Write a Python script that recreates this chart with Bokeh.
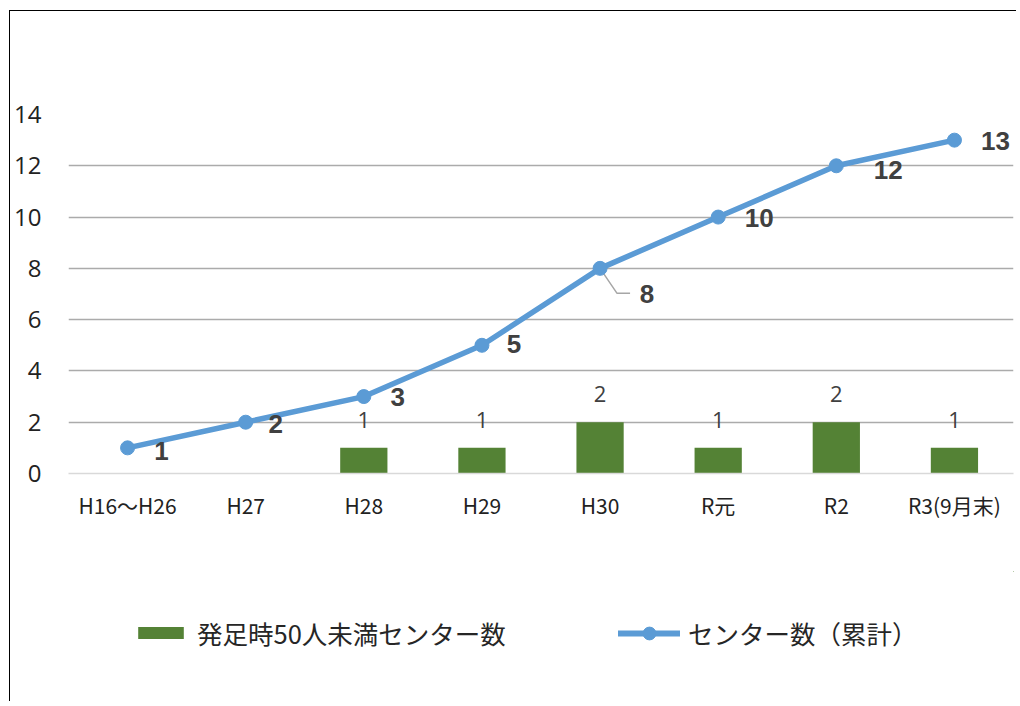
from bokeh.plotting import figure
from bokeh.layouts import column
from bokeh.models import Range1d, FactorRange, ColumnDataSource, Legend, LegendItem, FixedTicker
from bokeh.core.properties import value
from bokeh.embed import file_html
from bokeh.resources import INLINE

# ---- data ----
categories = ["H16〜H26", "H27", "H28", "H29", "H30", "R元", "R2", "R3(9月末)"]
small_centers = [0, 0, 1, 1, 2, 1, 2, 1]          # 発足時50人未満センター数
cumulative_centers = [1, 2, 3, 5, 8, 10, 12, 13]  # センター数（累計）
y_ticks = [0, 2, 4, 6, 8, 10, 12, 14]
bar_series_name = "発足時50人未満センター数"
line_series_name = "センター数（累計）"

# ---- styles ----
BAR_COLOR = "#548235"
LINE_COLOR = "#5B9BD5"
GRID_COLOR = "#ABABAB"
TEXT_DARK = "#404040"
TEXT_AXIS = "#222222"
JP_FONT = "Noto Sans CJK JP"
NUM_FONT = "Open Sans"
line_label_dx = [34, 30, 34, 32, 47, 41, 52, 41]
line_label_dy = [3, 2, 0, -1, 26, 1, 4, 1]

p = figure(width=1006, height=560,
           x_range=FactorRange(factors=categories, range_padding=0),
           y_range=Range1d(0, 14),
           output_backend="svg", toolbar_location=None,
           min_border_left=58, min_border_right=3,
           min_border_top=103, min_border_bottom=98)
p.outline_line_color = None
p.background_fill_color = "white"
p.border_fill_color = "white"

# grid
p.xgrid.grid_line_color = None
p.ygrid.ticker = FixedTicker(ticks=y_ticks[1:])
p.ygrid.grid_line_color = GRID_COLOR
p.ygrid.grid_line_width = 1.5

# axes
p.yaxis.ticker = FixedTicker(ticks=y_ticks)
p.yaxis.axis_line_color = None
p.yaxis.major_tick_line_color = None
p.yaxis.minor_tick_line_color = None
p.yaxis.major_tick_out = 0
p.yaxis.major_tick_in = 0
p.yaxis.major_label_standoff = 27
p.yaxis.major_label_text_font = NUM_FONT
p.yaxis.major_label_text_font_size = "24px"
p.yaxis.major_label_text_color = TEXT_AXIS

p.xaxis.axis_line_color = "#D9D9D9"
p.xaxis.axis_line_width = 1.5
p.xaxis.major_tick_line_color = None
p.xaxis.major_tick_out = 0
p.xaxis.major_tick_in = 0
p.xaxis.major_label_standoff = 16
p.xaxis.major_label_text_font = JP_FONT
p.xaxis.major_label_text_font_size = "21px"
p.xaxis.major_label_text_color = TEXT_AXIS

# bars
bar_idx = [i for i, v in enumerate(small_centers) if v > 0]
bar_src = ColumnDataSource(dict(
    x=[categories[i] for i in bar_idx],
    top=[small_centers[i] for i in bar_idx],
    label=[str(small_centers[i]) for i in bar_idx],
))
p.vbar(x="x", top="top", bottom=0, width=0.4, source=bar_src,
       fill_color=BAR_COLOR, line_color=None)
p.text(x="x", y="top", text="label", source=bar_src, y_offset=-28,
       text_align="center", text_baseline="middle",
       text_font=value(NUM_FONT), text_font_size="22px", text_color=TEXT_DARK)

# leader line for the label of H30 (index 4)
k = 4
px_x = 1.0 / 118.1   # data units per pixel (x)
px_y = 14.0 / 359.0  # data units per pixel (y)
xc = k + 0.5
yc = cumulative_centers[k]
p.line(x=[xc, xc + 17 * px_x, xc + 30 * px_x],
       y=[yc, yc - 25 * px_y, yc - 25 * px_y],
       line_color="#A6A6A6", line_width=1.5)

# line
line_src = ColumnDataSource(dict(
    x=categories, y=cumulative_centers,
    label=[str(v) for v in cumulative_centers],
    dx=line_label_dx, dy=line_label_dy,
))
p.line(x="x", y="y", source=line_src, line_color=LINE_COLOR, line_width=5.5,
       line_cap="round", line_join="round")
p.scatter(x="x", y="y", source=line_src, marker="circle", size=14,
          fill_color=LINE_COLOR, line_color=LINE_COLOR)
p.text(x="x", y="y", text="label", source=line_src, x_offset="dx", y_offset="dy",
       text_align="center", text_baseline="middle",
       text_font=value("Liberation Sans"), text_font_style="bold",
       text_font_size="26px", text_color=TEXT_DARK)

# ---- legend strip (second figure; series kept out of its view, legend only) ----
lf = figure(width=1006, height=130, x_range=Range1d(-3, -2), y_range=Range1d(-3, -2),
            x_axis_type=None, y_axis_type=None, output_backend="svg",
            toolbar_location=None, min_border_left=58, min_border_right=3,
            min_border_top=0, min_border_bottom=0)
lf.outline_line_color = None
lf.background_fill_color = "white"
lf.border_fill_color = "white"
lf.xgrid.visible = False
lf.ygrid.visible = False
idx = list(range(len(categories)))
leg_bar = lf.vbar(x=idx, top=small_centers, bottom=0, width=0.4,
                  fill_color=BAR_COLOR, line_color=None)
leg_line = lf.line(x=idx, y=cumulative_centers, line_color=LINE_COLOR, line_width=6,
                   line_cap="round")
leg_mk = lf.scatter(x=idx, y=cumulative_centers, marker="circle", size=13,
                    fill_color=LINE_COLOR, line_color=LINE_COLOR)
common = dict(orientation="horizontal", label_standoff=8,
              padding=0, margin=0, border_line_color=None, background_fill_alpha=0,
              label_text_font=JP_FONT, label_text_font_size="25.5px",
              label_text_color="#262626")
legend1 = Legend(items=[LegendItem(label=bar_series_name, renderers=[leg_bar])],
                 location=(64, 50), glyph_width=57, glyph_height=15, **common)
legend2 = Legend(items=[LegendItem(label=line_series_name, renderers=[leg_line, leg_mk])],
                 location=(550, 50), glyph_width=62, glyph_height=32, **common)
lf.add_layout(legend1)
lf.add_layout(legend2)

layout = column(p, lf, spacing=0)
layout.styles = {"margin-left": "9px", "margin-top": "10px",
                 "border-left": "1px solid #000000", "border-top": "1px solid #000000"}

open("out.html", "w").write(file_html(layout, INLINE))
